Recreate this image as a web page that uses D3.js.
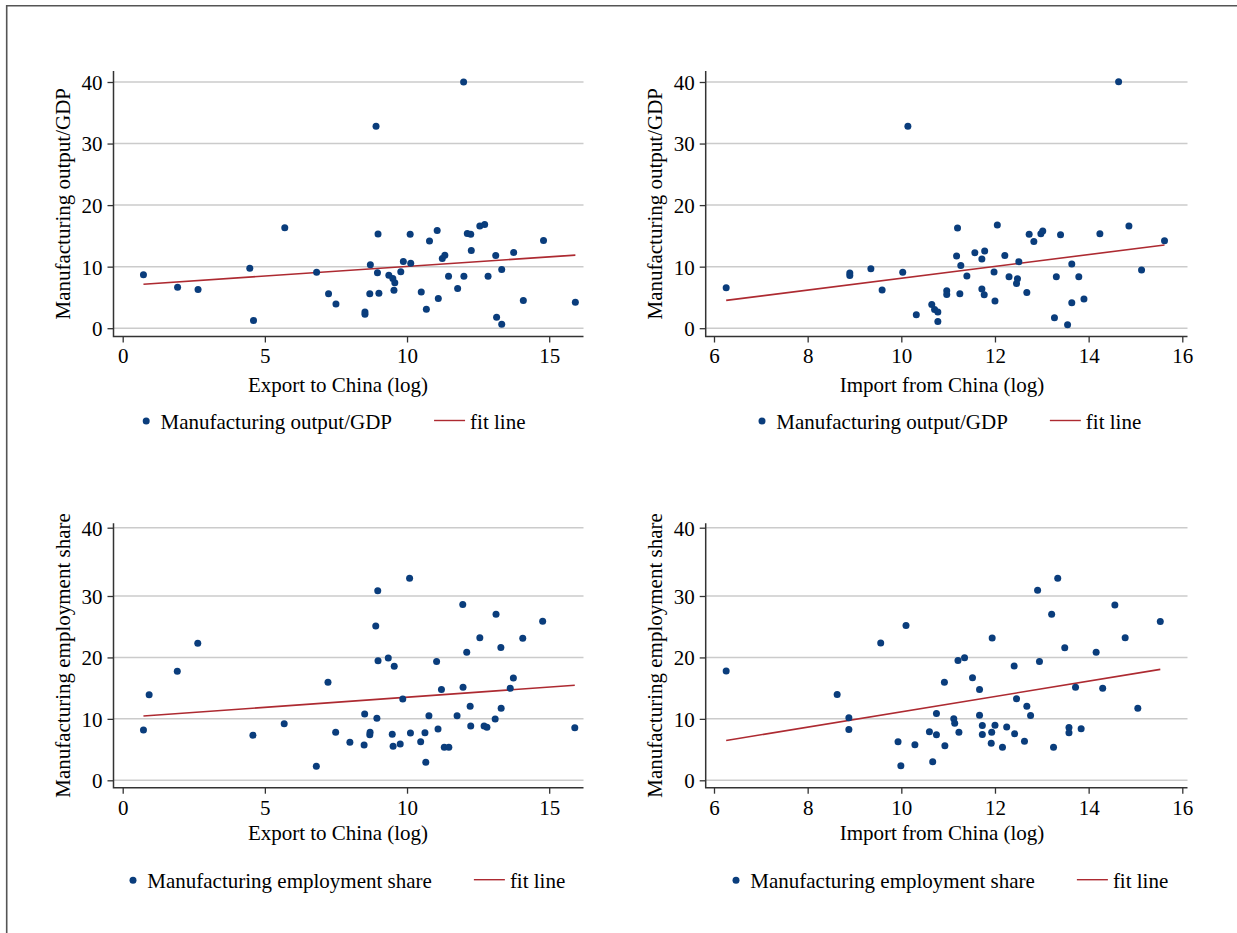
<!DOCTYPE html>
<meta charset="utf-8">
<style>
  body { margin: 0; background: #fff; }
  text { font-family: "Liberation Serif", "Times New Roman", serif; font-size: 21px; fill: #000; }
</style>

<body>
  <script src="https://d3js.org/d3.v7.min.js"></script>
  <script>

    // ---- data ----
    // output/GDP vs export to China (log)
    var expOutX = [0.73, 1.93, 2.65, 4.47, 4.60, 5.70, 6.82, 7.24, 7.50, 11.99, 8.91, 8.98, 10.11, 11.06, 10.79, 12.12, 12.24, 12.56, 12.73, 14.80,
      12.26, 11.24, 11.33, 13.12, 13.75, 13.33, 8.71, 9.87, 10.13, 8.96, 9.78, 9.36, 9.50, 9.57, 9.54, 11.46, 12.00, 12.85, 11.78, 8.69,
      9.01, 10.50, 11.10, 10.68, 8.52, 8.52, 14.09, 15.92, 13.15, 13.33];
    var expOutY = [8.67, 6.67, 6.29, 9.76, 1.25, 16.3, 9.1, 5.58, 3.95, 40.0, 32.8, 15.3, 15.28, 15.88, 14.15, 15.4, 15.28, 16.6, 16.85, 14.25,
      12.63, 11.33, 11.87, 11.8, 12.3, 9.54, 10.3, 10.84, 10.57, 9.0, 9.16, 8.62, 8.08, 7.37, 6.18, 8.46, 8.46, 8.46, 6.45, 5.58,
      5.69, 5.9, 4.83, 3.09, 2.65, 2.28, 4.5, 4.23, 1.79, 0.65];
    var fitExpOutX = [0.73, 15.92], fitExpOutY = [7.15, 11.87];

    // output/GDP vs import from China (log)
    var impOutX = [6.26, 10.14, 8.90, 8.90, 9.35, 10.03, 9.59, 10.32, 10.65, 10.71, 10.78, 10.78, 14.64, 11.20, 12.05, 12.73, 12.83, 12.98, 13.02, 13.40,
      14.24, 14.86, 15.62, 11.18, 11.57, 11.78, 11.72, 12.21, 11.27, 12.51, 13.64, 11.40, 11.98, 12.30, 12.48, 12.46, 13.31, 13.79, 15.13, 10.97,
      10.97, 11.25, 11.72, 11.77, 12.68, 12.00, 13.90, 13.64, 13.27, 13.55];
    var impOutY = [6.58, 32.8, 8.97, 8.58, 9.67, 9.07, 6.2, 2.19, 3.87, 3.05, 2.63, 1.1, 40.05, 16.28, 16.77, 15.25, 14.1, 15.35, 15.79, 15.19,
      15.35, 16.6, 14.2, 11.73, 12.27, 12.54, 11.24, 11.83, 10.2, 10.8, 10.43, 8.48, 9.13, 8.37, 8.04, 7.28, 8.37, 8.37, 9.46, 6.09,
      5.49, 5.6, 6.37, 5.44, 5.82, 4.42, 4.74, 4.14, 1.71, 0.57];
    var fitImpOutX = [6.26, 15.62], fitImpOutY = [4.52, 13.52];

    // employment share vs export to China (log)
    var expEmpX = [0.73, 0.93, 1.92, 2.64, 4.58, 5.68, 6.81, 7.22, 7.49, 7.99, 10.09, 8.97, 8.90, 11.96, 13.13, 14.77, 12.56, 14.07, 12.10, 13.30,
      8.98, 9.34, 9.55, 11.04, 13.74, 13.63, 11.21, 11.97, 9.85, 12.22, 13.31, 8.51, 8.94, 10.77, 11.76, 13.10, 12.24, 12.71, 12.81, 8.70,
      8.69, 9.48, 10.12, 10.63, 11.09, 8.49, 9.51, 9.76, 10.48, 11.31, 11.47, 10.66, 15.90];
    var expEmpY = [8.19, 13.94, 17.75, 22.3, 7.33, 9.22, 2.28, 15.96, 7.82, 6.19, 32.6, 30.78, 25.13, 28.6, 27.04, 25.9, 23.22, 23.13, 20.85, 21.6,
      19.48, 19.92, 18.57, 19.32, 16.66, 14.98, 14.76, 15.15, 13.24, 12.05, 11.73, 10.8, 10.1, 10.52, 10.52, 9.98, 8.84, 8.84, 8.63, 7.82,
      7.43, 7.49, 7.7, 7.75, 8.36, 5.75, 5.54, 5.91, 6.29, 5.37, 5.37, 2.93, 8.57];
    var fitExpEmpX = [0.73, 15.90], fitExpEmpY = [10.47, 15.47];

    // employment share vs import from China (log)
    var impEmpX = [6.26, 10.10, 9.56, 8.63, 8.88, 8.88, 9.93, 10.29, 9.99, 10.60, 10.67, 10.75, 10.75, 10.92, 10.93, 11.21, 11.35, 11.52, 11.67, 11.12,
      11.14, 11.23, 11.67, 11.73, 11.73, 11.93, 12.00, 11.92, 12.16, 11.94, 12.41, 12.46, 12.25, 12.42, 12.68, 12.76, 12.63, 12.91, 13.34, 13.21,
      12.95, 13.49, 13.72, 13.58, 13.58, 13.84, 13.25, 14.56, 14.78, 14.16, 14.30, 15.05, 15.53];
    var impEmpY = [17.8, 25.2, 22.35, 13.97, 10.18, 8.27, 6.27, 5.78, 2.36, 7.9, 3.01, 10.88, 7.41, 15.98, 5.62, 19.5, 19.95, 16.7, 14.79, 10.02,
      9.3, 7.83, 10.6, 8.93, 7.46, 7.83, 8.97, 6.04, 5.39, 23.15, 18.59, 13.27, 8.68, 7.57, 12.07, 10.55, 6.37, 30.84, 32.6, 27.02,
      19.35, 21.58, 15.16, 8.6, 7.74, 8.39, 5.39, 28.52, 23.21, 20.86, 15.0, 11.74, 25.86];
    var fitImpEmpX = [6.26, 15.53], fitImpEmpY = [6.48, 18.05];

    // tick labels
    var xTicksExport = [0, 5, 10, 15];
    var xTicksImport = [6, 8, 10, 12, 14, 16];
    var yTicks = [0, 10, 20, 30, 40];

    // ---- layout ----
    var navy = "#0a3d7c", maroon = "#ad2a31";

    var cols = [
      { l: 113.5, r: 583.5, xDom: [0, 15], xRange: [122.7, 549.2], xTicks: xTicksExport, xTitle: "Export to China (log)", titleX: 338 },
      { l: 705.7, r: 1187.5, xDom: [6, 16], xRange: [714, 1182.3], xTicks: xTicksImport, xTitle: "Import from China (log)", titleX: 942 }
    ];
    var rows = [
      { t: 71, b: 336.5, yDom: [0, 40], yRange: [328.2, 82], yTitle: "Manufacturing output/GDP", titleDy: 55, legDy: 92 },
      { t: 523.3, b: 787.7, yDom: [0, 30, 40], yRange: [780.3, 596, 527.7], yTitle: "Manufacturing employment share", titleDy: 52, legDy: 100 }
    ];

    var panels = [
      { c: 0, r: 0, xs: expOutX, ys: expOutY, fx: fitExpOutX, fy: fitExpOutY, legX: 146.2 },
      { c: 1, r: 0, xs: impOutX, ys: impOutY, fx: fitImpOutX, fy: fitImpOutY, legX: 762 },
      { c: 0, r: 1, xs: expEmpX, ys: expEmpY, fx: fitExpEmpX, fy: fitExpEmpY, legX: 133 },
      { c: 1, r: 1, xs: impEmpX, ys: impEmpY, fx: fitImpEmpX, fy: fitImpEmpY, legX: 736 }
    ];

    var svg = d3.select("body").append("svg")
      .attr("width", 1237)
      .attr("height", 933);

    // outer frame (only the top and left edges show)
    svg.append("path")
      .attr("d", "M6.7,945V5.7H1250")
      .attr("fill", "none")
      .attr("stroke", "#555")
      .attr("stroke-width", 1.6);

    panels.forEach(function (p) {
      var col = cols[p.c], row = rows[p.r];
      var x = d3.scaleLinear().domain(col.xDom).range(col.xRange);
      var y = d3.scaleLinear().domain(row.yDom).range(row.yRange);
      var g = svg.append("g");

      // gridlines
      g.selectAll(".grid")
        .data(yTicks)
        .enter().append("line")
        .attr("x1", col.l).attr("x2", col.r)
        .attr("y1", function (d) { return y(d); })
        .attr("y2", function (d) { return y(d); })
        .attr("stroke", "#cbcbcb")
        .attr("stroke-width", 1.5);

      // y axis
      var yAxis = g.append("g")
        .attr("transform", "translate(" + col.l + ",0)")
        .call(d3.axisLeft(y).tickValues(yTicks).tickSize(6).tickPadding(5).tickFormat(d3.format("d")));
      yAxis.select(".domain").remove();
      yAxis.selectAll("line").attr("stroke", "#333").attr("stroke-width", 1.3);
      yAxis.selectAll("text").attr("dy", "0.35em");
      yAxis.attr("font-size", null).attr("font-family", null);

      // x axis
      var xAxis = g.append("g")
        .attr("transform", "translate(0," + row.b + ")")
        .call(d3.axisBottom(x).tickValues(col.xTicks).tickSize(6).tickPadding(6).tickFormat(d3.format("d")));
      xAxis.select(".domain").remove();
      xAxis.selectAll("line").attr("stroke", "#333").attr("stroke-width", 1.3);
      xAxis.attr("font-size", null).attr("font-family", null);

      // axis lines (left and bottom only)
      g.append("path")
        .attr("d", "M" + col.l + "," + row.t + "V" + row.b + "H" + col.r)
        .attr("fill", "none")
        .attr("stroke", "#333")
        .attr("stroke-width", 1.5);

      // axis titles
      g.append("text")
        .attr("x", col.titleX)
        .attr("y", row.b + row.titleDy)
        .attr("text-anchor", "middle")
        .text(col.xTitle);
      g.append("text")
        .attr("transform", "translate(" + (col.l - 43.5) + "," + ((row.t + row.b) / 2) + ") rotate(-90)")
        .attr("text-anchor", "middle")
        .text(row.yTitle);

      // fit line
      var fit = p.fx.map(function (v, i) { return [v, p.fy[i]]; });
      g.append("path")
        .datum(fit)
        .attr("d", d3.line().x(function (d) { return x(d[0]); }).y(function (d) { return y(d[1]); }))
        .attr("fill", "none")
        .attr("stroke", maroon)
        .attr("stroke-width", 1.6);

      // scatter points
      var pts = p.xs.map(function (v, i) { return [v, p.ys[i]]; });
      g.selectAll(".dot")
        .data(pts)
        .enter().append("circle")
        .attr("cx", function (d) { return x(d[0]); })
        .attr("cy", function (d) { return y(d[1]); })
        .attr("r", 3.5)
        .attr("fill", navy);

      // legend
      var ly = row.b + row.legDy;
      var leg = g.append("g").attr("transform", "translate(" + p.legX + ",0)");
      leg.append("circle").attr("cx", 0).attr("cy", ly - 7.5).attr("r", 3.5).attr("fill", navy);
      var t1 = leg.append("text").attr("x", 14.3).attr("y", ly).text(row.yTitle);
      var lx = 14.3 + t1.node().getComputedTextLength() + 42;
      leg.append("line")
        .attr("x1", lx).attr("x2", lx + 31)
        .attr("y1", ly - 8).attr("y2", ly - 8)
        .attr("stroke", maroon).attr("stroke-width", 1.4);
      leg.append("text").attr("x", lx + 36).attr("y", ly).text("fit line");
    });

  </script>
</body>
